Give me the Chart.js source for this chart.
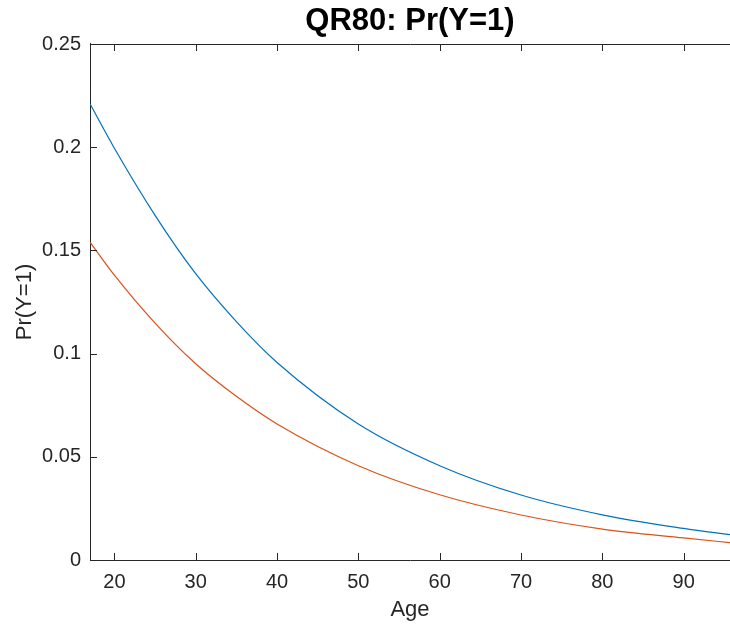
<!DOCTYPE html>
<html>

<head>
  <title>QR80</title>
  <style>
    body { margin: 0; background: #fff; overflow: hidden; }
  </style>
</head>

<body>
  <canvas id="chart" width="730" height="626"></canvas>
  <script src="https://cdn.jsdelivr.net/npm/chart.js"></script>
  <script>
    // values
    const ages = [17, 20, 25, 30, 35, 40, 50, 60, 70, 80, 90, 96];
    const blueSeries = [0.221, 0.1995, 0.167, 0.1387, 0.1155, 0.0957, 0.0659, 0.0457, 0.0315, 0.0219, 0.0153, 0.0121];
    const redSeries = [0.154, 0.138, 0.1148, 0.0951, 0.0793, 0.0659, 0.0457, 0.0316, 0.0218, 0.0150, 0.0107, 0.0083];
    const xTicks = [20, 30, 40, 50, 60, 70, 80, 90];
    const yTicks = [0, 0.05, 0.1, 0.15, 0.2, 0.25];

    const axisColor = '#262626';
    const fontFamily = '"Liberation Sans", Arial, Helvetica, sans-serif';

    // matlab style top line with inward ticks (right edge falls off the picture)
    const boxPlugin = {
      id: 'box',
      afterDraw(chart) {
        const ctx = chart.ctx;
        const area = chart.chartArea;
        const xs = chart.scales.x;
        const ys = chart.scales.y;
        const len = 7;
        ctx.save();
        ctx.strokeStyle = axisColor;
        ctx.lineWidth = 1;
        ctx.beginPath();
        ctx.moveTo(area.left, area.top + 0.5);
        ctx.lineTo(area.right + 2, area.top + 0.5);
        xs.ticks.forEach((t) => {
          const px = Math.round(xs.getPixelForValue(t.value)) + 0.5;
          ctx.moveTo(px, area.bottom);
          ctx.lineTo(px, area.bottom - len);
          ctx.moveTo(px, area.top);
          ctx.lineTo(px, area.top + len);
        });
        ys.ticks.forEach((t) => {
          const py = Math.round(ys.getPixelForValue(t.value)) + 0.5;
          ctx.moveTo(area.left, py);
          ctx.lineTo(area.left + len, py);
        });
        ctx.stroke();
        ctx.restore();
      }
    };

    const ctx = document.getElementById('chart').getContext('2d');
    const lineChart = new Chart(ctx, {
      type: 'line',
      data: {
        labels: ages,
        datasets: [
          {
            data: ages.map((a, i) => ({ x: a, y: blueSeries[i] })),
            borderColor: '#0072BD',
            borderWidth: 1.2,
            pointRadius: 0,
            cubicInterpolationMode: 'monotone',
            fill: false
          },
          {
            data: ages.map((a, i) => ({ x: a, y: redSeries[i] })),
            borderColor: '#D95319',
            borderWidth: 1.2,
            pointRadius: 0,
            cubicInterpolationMode: 'monotone',
            fill: false
          }
        ]
      },
      options: {
        responsive: false,
        animation: false,
        layout: { padding: { left: 0, top: 0, bottom: 0, right: -1 } },
        plugins: {
          legend: { display: false },
          tooltip: { enabled: false },
          title: {
            display: true,
            text: 'QR80: Pr(Y=1)',
            fullSize: false,
            color: '#000',
            font: { family: fontFamily, size: 31, weight: 'bold', lineHeight: 1.2 },
            padding: { top: 3, bottom: 3.8 }
          }
        },
        scales: {
          x: {
            type: 'linear',
            min: 17,
            max: 95.7,
            afterBuildTicks: (scale) => { scale.ticks = xTicks.map((v) => ({ value: v })); },
            afterFit: (scale) => { scale.height = 66; },
            grid: { display: false, drawTicks: false },
            border: { display: true, color: axisColor, width: 1 },
            ticks: {
              color: axisColor,
              padding: 10,
              maxRotation: 0,
              font: { family: fontFamily, size: 20 }
            },
            title: {
              display: true,
              text: 'Age',
              color: axisColor,
              font: { family: fontFamily, size: 22, lineHeight: 1.2 },
              padding: { top: 0, bottom: 3 }
            }
          },
          y: {
            min: 0,
            max: 0.25,
            afterBuildTicks: (scale) => { scale.ticks = yTicks.map((v) => ({ value: v })); },
            afterFit: (scale) => { scale.width = 90; },
            grid: { display: false, drawTicks: false },
            border: { display: true, color: axisColor, width: 1 },
            ticks: {
              color: axisColor,
              padding: 9,
              font: { family: fontFamily, size: 20 },
              callback: (v) => String(v)
            },
            title: {
              display: true,
              text: 'Pr(Y=1)',
              color: axisColor,
              font: { family: fontFamily, size: 22, lineHeight: 1.2 },
              padding: { top: 12, bottom: 0 }
            }
          }
        }
      },
      plugins: [boxPlugin]
    });
  </script>
</body>

</html>
